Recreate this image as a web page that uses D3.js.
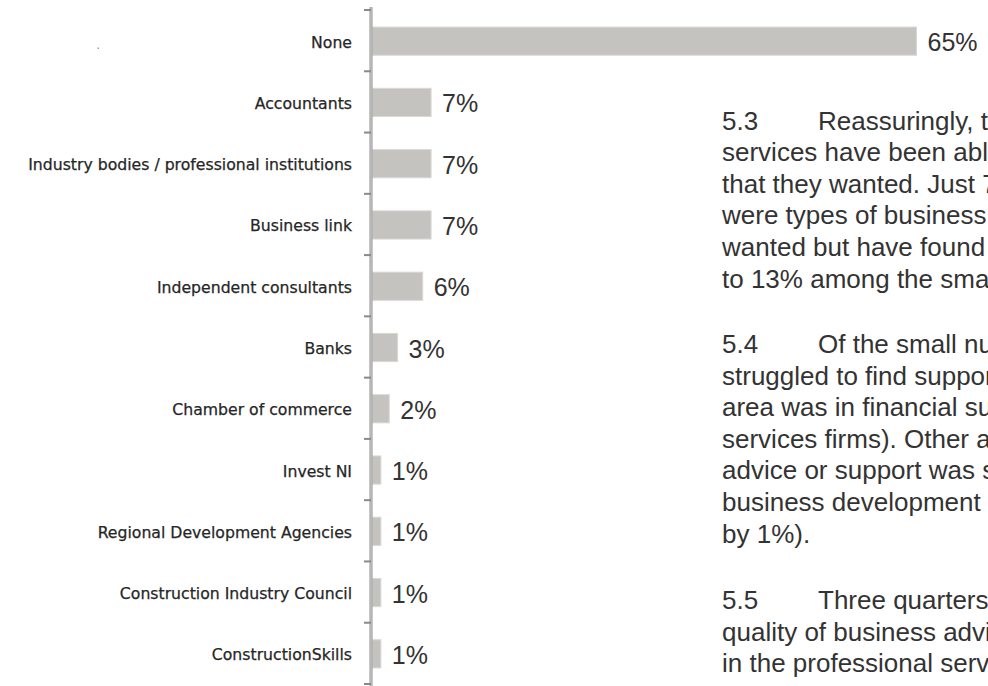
<!DOCTYPE html>
<html>
<head>
<meta charset="utf-8">
<script src="https://cdn.jsdelivr.net/npm/d3@7/dist/d3.min.js"></script>
<style>
  html, body { margin: 0; padding: 0; background: #fff; }
  svg { display: block; }
</style>
</head>
<body>
<svg id="chart" width="988" height="686"></svg>
<script>
// Sources of business advice used (share of firms)
const categories = [
  "None",
  "Accountants",
  "Industry bodies / professional institutions",
  "Business link",
  "Independent consultants",
  "Banks",
  "Chamber of commerce",
  "Invest NI",
  "Regional Development Agencies",
  "Construction Industry Council",
  "ConstructionSkills"
];
const values = [65, 7, 7, 7, 6, 3, 2, 1, 1, 1, 1];
const valueLabels = values.map(v => v + "%");

// Report text running alongside the chart (runs off the page edge)
const para53 = [
  "services have been able to find the",
  "that they wanted. Just 7% said there",
  "were types of business support they",
  "wanted but have found difficult",
  "to 13% among the smallest firms"
];
const para54 = [
  "struggled to find support, the main",
  "area was in financial support (4% of",
  "services firms). Other areas where",
  "advice or support was sought included",
  "business development (2%) and",
  "by 1%)."
];
const para55 = [
  "quality of business advice received",
  "in the professional services sector"
];
const paragraphs = [
  { num: "5.3", lead: "Reassuringly, the majority of", lines: para53 },
  { num: "5.4", lead: "Of the small number of firms that", lines: para54 },
  { num: "5.5", lead: "Three quarters of firms rated the", lines: para55 }
];

const svg = d3.select("#chart");

const axisX = 371;
const x = d3.scaleLinear().domain([0, 65]).range([372.5, 916.5]);
const y = d3.scaleBand()
  .domain(categories)
  .range([10, 684])
  .paddingInner(0.54)
  .paddingOuter(0.27);

const g = svg.append("g");

// bars
g.selectAll("rect.bar")
  .data(values)
  .join("rect")
  .attr("class", "bar")
  .attr("x", x(0))
  .attr("y", (d, i) => y(categories[i]) + 0.5)
  .attr("width", d => x(d) - x(0))
  .attr("height", y.bandwidth())
  .attr("fill", "#c4c3bf")
  .attr("stroke", "#d9d8d5")
  .attr("stroke-width", 1);

// value labels
g.selectAll("text.val")
  .data(values)
  .join("text")
  .attr("class", "val")
  .attr("x", d => x(d) + 11)
  .attr("y", (d, i) => y(categories[i]) + y.bandwidth() / 2 + 10.5)
  .attr("font-family", "'Liberation Sans', Arial, sans-serif")
  .attr("font-size", 25)
  .attr("fill", "#333")
  .text((d, i) => valueLabels[i]);

// category labels
g.selectAll("text.cat")
  .data(categories)
  .join("text")
  .attr("class", "cat")
  .attr("x", 352)
  .attr("y", d => y(d) + y.bandwidth() / 2 + 7)
  .attr("text-anchor", "end")
  .attr("font-family", "'DejaVu Sans', sans-serif")
  .attr("font-size", 15.7)
  .attr("fill", "#262626")
  .attr("stroke", "#262626")
  .attr("stroke-width", 0.25)
  .text(d => d);

// vertical category axis with boundary ticks
const step = y.step();
const boundaries = d3.range(categories.length + 1).map(i => y.range()[0] + i * step);
g.append("line")
  .attr("x1", axisX).attr("x2", axisX)
  .attr("y1", 7).attr("y2", 686)
  .attr("stroke", "#8f8f8f").attr("stroke-width", 3);
g.append("line")
  .attr("x1", axisX).attr("x2", axisX)
  .attr("y1", 7).attr("y2", 686)
  .attr("stroke", "#dedede").attr("stroke-width", 1);
g.selectAll("line.tick")
  .data(boundaries)
  .join("line")
  .attr("class", "tick")
  .attr("x1", axisX - 7).attr("x2", axisX)
  .attr("y1", d => d).attr("y2", d => d)
  .attr("stroke", "#8a8a8a").attr("stroke-width", 2);

// small speck at top left
svg.append("rect")
  .attr("x", 97.5).attr("y", 47.5).attr("width", 1.5).attr("height", 1.5)
  .attr("fill", "#9a9a9a");

// running text on the right
const tx = 722, leadX = 818, lineH = 31.6;
const textG = svg.append("g")
  .attr("font-family", "'Liberation Sans', Arial, sans-serif")
  .attr("font-size", 26)
  .attr("fill", "#333");
const starts = [129.5, 353, 609];
paragraphs.forEach((p, pi) => {
  const y0 = starts[pi];
  textG.append("text").attr("x", tx).attr("y", y0).text(p.num);
  textG.append("text").attr("x", leadX).attr("y", y0).text(p.lead);
  p.lines.forEach((line, li) => {
    textG.append("text")
      .attr("x", tx)
      .attr("y", y0 + (li + 1) * lineH)
      .text(line);
  });
});
</script>
</body>
</html>
